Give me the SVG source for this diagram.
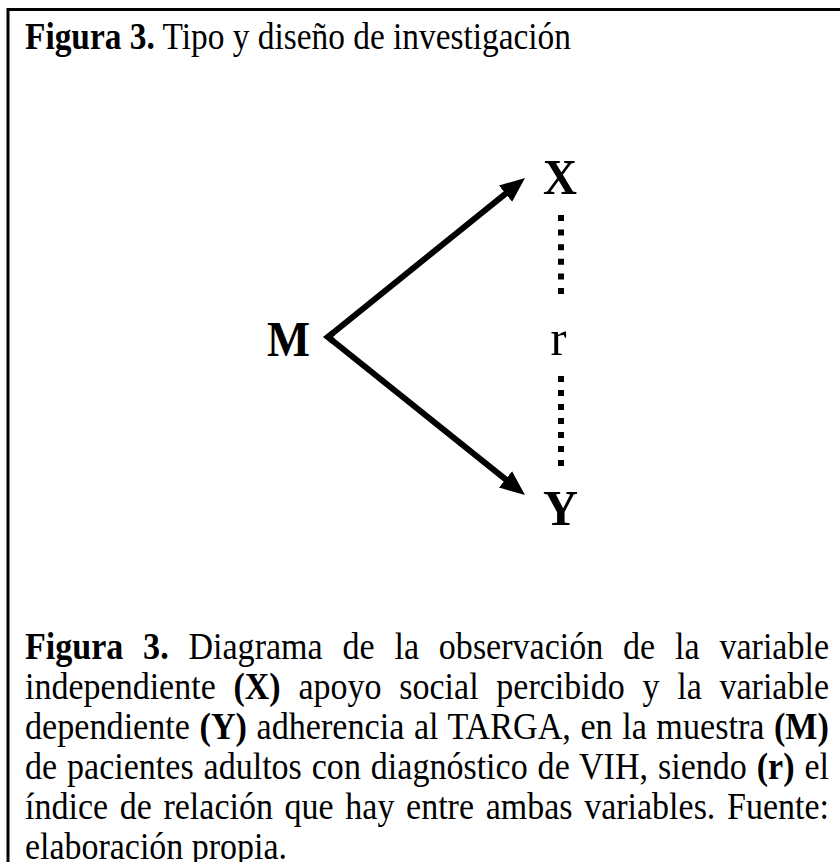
<svg xmlns="http://www.w3.org/2000/svg" width="840" height="862" viewBox="0 0 840 862">
<style>
text{font-family:"Liberation Serif","Times New Roman",serif;fill:#000}
.t{font-size:37px}
.c{font-size:38px}
.b{font-weight:bold}
.lbl{font-size:50px;text-anchor:middle}
.arrow{fill:none;stroke:#000;stroke-width:6;stroke-linejoin:miter;stroke-miterlimit:10}
.dots{fill:none;stroke:#000;stroke-width:6}
</style>
<defs>
<marker id="ah" markerUnits="userSpaceOnUse" markerWidth="28" markerHeight="24" viewBox="0 -12 28 24" refX="10" refY="0" orient="auto">
<path d="M0,-10.5 L25,0 L0,10.5 z" fill="#000"/>
</marker>
</defs>
<rect width="840" height="862" fill="#fff"/>
<path d="M840,9.5 H8 V862" fill="none" stroke="#000" stroke-width="3"/>
<g id="title">
<text class="t" x="25" y="49" textLength="546" lengthAdjust="spacingAndGlyphs"><tspan class="b">Figura 3.</tspan> Tipo y diseño de investigación</text>
</g>
<g id="connectors">
<path class="arrow" d="M333.5,341.3 L328,337 L513.3,187.4" marker-end="url(#ah)"/>
<path class="arrow" d="M333.5,332.6 L328,337 L513.3,485.6" marker-end="url(#ah)"/>
<line class="dots" x1="561" y1="215" x2="561" y2="294" stroke-dasharray="6 8.6"/>
<line class="dots" x1="561" y1="376" x2="561" y2="466" stroke-dasharray="6 8"/>
</g>
<g id="node-M"><text class="lbl b" x="288.5" y="356" textLength="43" lengthAdjust="spacingAndGlyphs">M</text></g>
<g id="node-X"><text class="lbl b" x="560" y="194" textLength="34" lengthAdjust="spacingAndGlyphs">X</text></g>
<g id="node-Y"><text class="lbl b" x="560.5" y="525" textLength="35" lengthAdjust="spacingAndGlyphs">Y</text></g>
<g id="label-r"><text class="lbl" x="558.5" y="355" textLength="16" lengthAdjust="spacingAndGlyphs">r</text></g>
<g id="caption">
<text class="c" x="25" y="659" style="word-spacing:12.7px" textLength="804" lengthAdjust="spacingAndGlyphs"><tspan class="b">Figura 3.</tspan> Diagrama de la observación de la variable</text>
<text class="c" x="25" y="699" style="word-spacing:10.3px" textLength="804" lengthAdjust="spacingAndGlyphs">independiente <tspan class="b">(X)</tspan> apoyo social percibido y la variable</text>
<text class="c" x="25" y="739" style="word-spacing:1.1px" textLength="804" lengthAdjust="spacingAndGlyphs">dependiente <tspan class="b">(Y)</tspan> adherencia al TARGA, en la muestra <tspan class="b">(M)</tspan></text>
<text class="c" x="25" y="779" style="word-spacing:1.6px" textLength="804" lengthAdjust="spacingAndGlyphs">de pacientes adultos con diagnóstico de VIH, siendo <tspan class="b">(r)</tspan> el</text>
<text class="c" x="25" y="819" style="word-spacing:3.5px" textLength="804" lengthAdjust="spacingAndGlyphs">índice de relación que hay entre ambas variables. Fuente:</text>
<text class="c" x="25" y="859" textLength="262" lengthAdjust="spacingAndGlyphs">elaboración propia.</text>
</g>
</svg>
